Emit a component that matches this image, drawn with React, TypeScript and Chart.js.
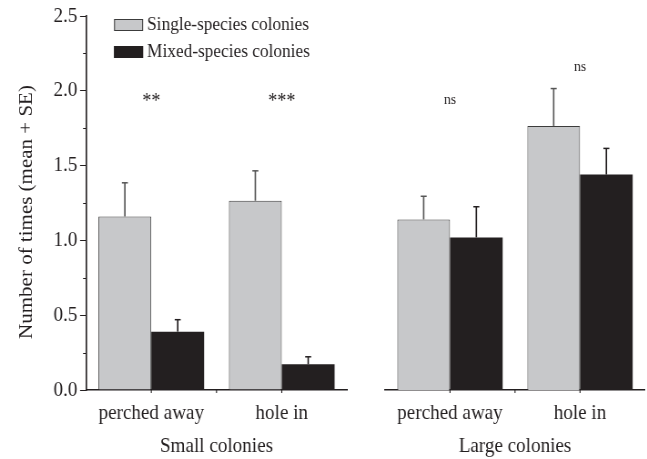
import React, { useEffect, useRef } from "react";
import { Chart, registerables } from "chart.js";
Chart.register(...registerables);

const categories = ["perched away", "hole in"];
const seriesNames = ["Single-species colonies", "Mixed-species colonies"];
const panelTitles = ["Small colonies", "Large colonies"];
const smallSingle = [1.16, 1.265];
const smallSingleSE = [0.225, 0.2];
const smallMixed = [0.39, 0.172];
const smallMixedSE = [0.08, 0.05];
const largeSingle = [1.14, 1.765];
const largeSingleSE = [0.155, 0.25];
const largeMixed = [1.02, 1.44];
const largeMixedSE = [0.205, 0.175];
const smallSig = ["**", "***"];
const smallSigLevel = [1.96, 1.96];
const largeSig = ["ns", "ns"];
const largeSigLevel = [1.94, 2.16];
const yMin = 0;
const yMax = 2.5;
const yStep = 0.5;
const yMinorStep = 0.25;
const yTitle = "Number of times (mean + SE)";

const FONT = "'Liberation Serif', 'Times New Roman', serif";
const INK = "#231f20";
const GREY = "#c7c8ca";
const GREY_EDGE = "#3c3c3c";
const ERR_GREY = "#555555";
// the figure's type is slightly condensed horizontally: draw wider, display narrower
const K = 0.91;
const sx = (v: number) => v / K;

const LEFT_W = 366;
const RIGHT_W = 281;
const H = 459;

const extrasPlugin = {
  id: "extras",
  afterDatasetsDraw(chart: any, _args: any, opts: any) {
    const ctx = chart.ctx;
    const y = chart.scales.y;
    const x = chart.scales.x;
    const area = chart.chartArea;
    // error bars
    chart.data.datasets.forEach((ds: any, i: number) => {
      const meta = chart.getDatasetMeta(i);
      meta.data.forEach((bar: any, j: number) => {
        const top = y.getPixelForValue(ds.data[j] + ds.se[j]);
        ctx.save();
        ctx.strokeStyle = ds.errColor;
        ctx.lineWidth = sx(1.5);
        ctx.beginPath();
        ctx.moveTo(bar.x, bar.y);
        ctx.lineTo(bar.x, top);
        ctx.stroke();
        ctx.lineWidth = 1.5;
        ctx.beginPath();
        ctx.moveTo(bar.x - sx(3), top);
        ctx.lineTo(bar.x + sx(3), top);
        ctx.stroke();
        ctx.restore();
      });
    });
    // significance labels
    ctx.save();
    ctx.fillStyle = INK;
    ctx.textAlign = "center";
    ctx.textBaseline = "alphabetic";
    opts.sig.forEach((s: string, j: number) => {
      const px = x.getPixelForValue(j);
      const py = y.getPixelForValue(opts.level[j]);
      if (s === "ns") {
        ctx.font = `15px ${FONT}`;
        ctx.fillText(s, px, py + 4);
      } else {
        ctx.font = `20px ${FONT}`;
        ctx.fillText(s, px, py + 10);
      }
    });
    ctx.restore();
    // x ticks at centers and boundaries
    ctx.save();
    ctx.strokeStyle = INK;
    ctx.lineWidth = sx(1);
    const n = chart.data.labels.length;
    const positions: number[] = [];
    for (let j = 0; j < n; j++) positions.push(x.getPixelForValue(j));
    for (let j = 0; j < n - 1; j++) positions.push((x.getPixelForValue(j) + x.getPixelForValue(j + 1)) / 2);
    ctx.beginPath();
    positions.forEach((p) => {
      ctx.moveTo(p, area.bottom);
      ctx.lineTo(p, area.bottom + 3);
    });
    ctx.stroke();
    // y minor ticks
    if (opts.minor) {
      ctx.lineWidth = 1;
      ctx.beginPath();
      for (let v = yMin + yMinorStep; v < yMax; v += yMinorStep * 2) {
        const py = Math.round(y.getPixelForValue(v)) + 0.5;
        ctx.moveTo(area.left - sx(3), py);
        ctx.lineTo(area.left, py);
      }
      ctx.stroke();
    }
    ctx.restore();
    // y title
    if (opts.yTitle) {
      ctx.save();
      ctx.translate(sx(27), (area.top + area.bottom) / 2 + 9);
      ctx.rotate(-Math.PI / 2);
      ctx.fillStyle = INK;
      ctx.font = `21px ${FONT}`;
      ctx.textAlign = "center";
      ctx.textBaseline = "middle";
      ctx.fillText(opts.yTitle, 0, 0);
      ctx.restore();
    }
    // legend
    if (opts.legend) {
      ctx.save();
      chart.data.datasets.forEach((ds: any, i: number) => {
        const top = 19 + i * 27;
        ctx.fillStyle = ds.backgroundColor;
        ctx.fillRect(sx(114), top, sx(29), 12);
        ctx.strokeStyle = ds.borderColor;
        ctx.lineWidth = 1;
        ctx.strokeRect(sx(114) + 0.5, top + 0.5, sx(29) - 1, 11);
        ctx.fillStyle = INK;
        ctx.font = `19px ${FONT}`;
        ctx.textAlign = "left";
        ctx.textBaseline = "middle";
        ctx.fillText(ds.label, sx(147), top + 6.5);
      });
      ctx.restore();
    }
  },
};

function makeConfig(
  single: number[],
  singleSE: number[],
  mixed: number[],
  mixedSE: number[],
  title: string,
  sig: string[],
  level: number[],
  left: boolean
): any {
  return {
    type: "bar",
    data: {
      labels: categories,
      datasets: [
        {
          label: seriesNames[0],
          data: single,
          se: singleSE,
          errColor: ERR_GREY,
          backgroundColor: GREY,
          borderColor: GREY_EDGE,
          borderWidth: 1,
          borderSkipped: "bottom",
          categoryPercentage: 0.81,
          barPercentage: 1.0,
        },
        {
          label: seriesNames[1],
          data: mixed,
          se: mixedSE,
          errColor: INK,
          backgroundColor: INK,
          borderColor: INK,
          borderWidth: 0,
          categoryPercentage: 0.81,
          barPercentage: 1.0,
        },
      ],
    },
    options: {
      responsive: false,
      animation: false,
      devicePixelRatio: 1,
      layout: {
        padding: left
          ? { left: 0, right: sx(LEFT_W - 347), top: 16, bottom: 0 }
          : { left: sx(385 - LEFT_W), right: sx(RIGHT_W - (645 - LEFT_W)), top: 16, bottom: 0 },
      },
      plugins: {
        legend: { display: false },
        tooltip: { enabled: false },
        extras: { sig, level, minor: left, legend: left, yTitle: left ? yTitle : "" },
      },
      scales: {
        x: {
          type: "category",
          offset: true,
          afterFit: (s: any) => {
            s.height = 69;
          },
          grid: { display: true, drawOnChartArea: false, drawTicks: false, tickLength: 0 },
          border: { display: true, color: INK, width: 1.5 },
          ticks: {
            color: INK,
            padding: 11,
            maxRotation: 0,
            font: { family: FONT, size: 21 },
          },
          title: {
            display: true,
            text: title,
            color: INK,
            font: { family: FONT, size: 21 },
            padding: { top: 0, bottom: 0 },
          },
        },
        y: {
          display: left,
          min: yMin,
          max: yMax,
          afterFit: (s: any) => {
            if (left) s.width = sx(86);
          },
          grid: {
            display: true,
            drawOnChartArea: false,
            drawTicks: true,
            tickLength: sx(6),
            color: INK,
            lineWidth: 1,
          },
          border: { display: true, color: INK, width: sx(1.5) },
          ticks: {
            stepSize: yStep,
            color: INK,
            padding: 3,
            font: { family: FONT, size: 21 },
            callback: (v: any) => Number(v).toFixed(1),
          },
          title: { display: false },
        },
      },
    },
    plugins: [extrasPlugin],
  };
}

export default function App() {
  const leftRef = useRef<HTMLCanvasElement>(null);
  const rightRef = useRef<HTMLCanvasElement>(null);
  useEffect(() => {
    const c1 = new Chart(
      leftRef.current as HTMLCanvasElement,
      makeConfig(smallSingle, smallSingleSE, smallMixed, smallMixedSE, panelTitles[0], smallSig, smallSigLevel, true)
    );
    const c2 = new Chart(
      rightRef.current as HTMLCanvasElement,
      makeConfig(largeSingle, largeSingleSE, largeMixed, largeMixedSE, panelTitles[1], largeSig, largeSigLevel, false)
    );
    return () => {
      c1.destroy();
      c2.destroy();
    };
  }, []);
  return (
    <div style={{ position: "absolute", left: 0, top: 0, width: 647, height: H, background: "#fff" }}>
      <canvas
        ref={leftRef}
        width={Math.round(sx(LEFT_W))}
        height={H}
        style={{ position: "absolute", left: 0, top: 0, width: LEFT_W, height: H }}
      />
      <canvas
        ref={rightRef}
        width={Math.round(sx(RIGHT_W))}
        height={H}
        style={{ position: "absolute", left: LEFT_W, top: 0, width: RIGHT_W, height: H }}
      />
    </div>
  );
}
